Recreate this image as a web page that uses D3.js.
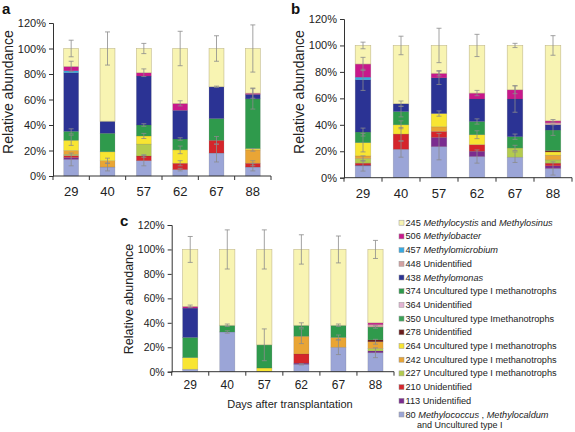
<!DOCTYPE html>
<html>
<head>
<meta charset="utf-8">
<script src="https://cdn.jsdelivr.net/npm/d3@7"></script>
<style>
  html, body { margin: 0; padding: 0; background: #fff; }
  svg { display: block; font-family: "Liberation Sans", Arial, sans-serif; }
</style>
</head>
<body>
<svg id="chart" width="575" height="432"></svg>
<script>
// ---------------- DATA ----------------
const days = ["29", "40", "57", "62", "67", "88"];
// stacking order, bottom -> top
const seriesCodes = [80, 113, 210, 227, 242, 264, 278, 350, 364, 374, 438, 448, 457, 506, 245];
const yTicks = [0, 20, 40, 60, 80, 100, 120];

// rows = days, columns = seriesCodes (relative abundance, %)
const valuesA = [
  [13, 1.5, 1.5, 1, 3, 8, 0, 0, 0, 7, 46, 0, 1.5, 3.5, 14],
  [7, 0, 0, 0, 5, 7, 0, 0, 0, 14.5, 9.5, 0, 0, 0, 57],
  [12, 0, 3.7, 9.3, 0, 6.4, 0, 0, 0, 8.6, 38.4, 0, 0, 2.6, 19],
  [5, 0, 5, 0, 0, 10.5, 0, 0, 0, 8.5, 22.5, 0, 0, 5.5, 43],
  [18, 0, 10, 0, 0, 0, 0, 0, 0, 17, 25, 0, 0, 0, 30],
  [7, 0, 3, 0, 10.5, 1, 0, 0, 0, 39, 3.5, 0, 0, 1, 35]
];
const valuesB = [
  [9, 0.5, 1.5, 3.5, 2, 10, 0, 0, 0, 8, 39.5, 0, 2, 10, 14],
  [21.5, 0, 11.5, 0, 0, 7, 0, 0, 0, 10, 6, 0, 0, 0, 44],
  [23.5, 7, 4.5, 0, 3.5, 10, 0, 0, 0, 0, 27, 0, 0, 3.5, 21],
  [16, 4, 5, 0, 0, 7.5, 0, 0, 0, 10, 17, 0, 0, 4.5, 36],
  [15.5, 0, 0, 7, 0, 0, 0, 0, 0, 8.5, 28.5, 0, 0, 7, 33.5],
  [7, 2, 2, 2.5, 3.5, 2.5, 1, 0, 0, 15.5, 4, 1.5, 0, 1.5, 57]
];
const valuesC = [
  [2, 0, 0, 0, 0, 9.5, 0, 0, 0, 16.5, 24, 0, 0, 1.5, 46.5],
  [32.5, 0, 0, 0, 0, 0, 0, 0, 0, 5.5, 0, 0, 0, 0, 62],
  [0, 0, 0, 0, 0, 3, 0, 0, 0, 19, 0, 0, 0, 0, 78],
  [6, 1, 7.5, 0, 14.5, 0, 0, 0, 0, 9, 0, 0, 0, 0, 62],
  [20, 0, 0, 0, 8, 0, 0, 0, 0, 10, 0, 0, 0, 0, 62],
  [15.5, 1.5, 0, 2, 5.5, 0, 1.5, 0, 0, 10.5, 0, 2, 0, 1.5, 60]
];
// error bars (± %), drawn at the top of each segment; same shape as values
const errA = [
  [5, 0, 0, 0, 0, 4, 0, 0, 0, 2, 0, 0, 0, 4, 6.5],
  [3, 0, 0, 0, 2, 0, 0, 0, 0, 0, 0, 0, 0, 0, 13],
  [4, 0, 1, 0, 0, 2, 0, 0, 0, 1, 0, 0, 0, 3, 4],
  [1, 0, 2, 0, 0, 3, 0, 0, 0, 1, 0, 0, 0, 2, 13.5],
  [7, 0, 3, 0, 0, 0, 0, 0, 0, 0, 0.5, 0, 0, 0, 10],
  [3, 0, 2, 0, 1, 0, 0, 0, 0, 8, 0, 0, 0, 4, 18.5]
];
const errB = [
  [4, 0, 0, 2, 0, 7, 0, 0, 0, 3, 8, 0, 0, 5, 2.5],
  [6, 0, 5, 0, 0, 3, 0, 0, 0, 4, 2, 0, 0, 0, 7],
  [10, 0, 0, 0, 0, 2, 0, 0, 0, 0, 5, 0, 0, 2, 13],
  [5, 0, 0, 0, 0, 3, 0, 0, 0, 2, 0, 0, 0, 2, 8.4],
  [4, 0, 0, 2, 0, 0, 0, 0, 0, 2, 10, 0, 0, 3, 1.6],
  [5, 0, 0, 0, 0, 0, 0, 0, 0, 4, 0, 0, 0, 1, 7.4]
];
const errC = [
  [0, 0, 0, 0, 0, 0, 0, 0, 0, 0, 0, 0, 0, 1, 10.6],
  [1, 0, 0, 0, 0, 0, 0, 0, 0, 1, 0, 0, 0, 0, 16],
  [0, 0, 0, 0, 0, 0, 0, 0, 0, 13, 0, 0, 0, 0, 16],
  [0.5, 0, 0, 0, 6, 0, 0, 0, 0, 2, 0, 0, 0, 0, 12],
  [6, 0, 0, 0, 2, 0, 0, 0, 0, 1, 0, 0, 0, 0, 11],
  [4, 0, 0, 0, 2, 0, 0, 0, 0, 1, 0, 0, 0, 0, 7.4]
];
// legend labels, top -> bottom; each is a list of [text, italic]
const legendCodes = [245, 506, 457, 448, 438, 374, 364, 350, 278, 264, 242, 227, 210, 113, 80];
const legendNames = [
  [["Methylocystis", true], [" and ", false], ["Methylosinus", true]],
  [["Methylobacter", true]],
  [["Methylomicrobium", true]],
  [["Unidentified", false]],
  [["Methylomonas", true]],
  [["Uncultured type I methanotrophs", false]],
  [["Unidentified", false]],
  [["Uncultured type Imethanotrophs", false]],
  [["Unidentified", false]],
  [["Uncultured type I methanotrophs", false]],
  [["Uncultured type I methanotrophs", false]],
  [["Uncultured type I methanotrophs", false]],
  [["Unidentified", false]],
  [["Unidentified", false]],
  [["Methylococcus", true], [" , ", false], ["Methylocaldum", true]]
];
const legendExtraLine = "and Uncultured type I";
const xTitle = "Days after transplantation";
const yTitle = "Relative abundance";

// ---------------- STYLE ----------------
const colorOf = {
  80: "#9ba5d7", 113: "#7b2c8f", 210: "#d5252b", 227: "#b3cb4e", 242: "#e9a535",
  264: "#f8e532", 278: "#6b1c1c", 350: "#3aa257", 364: "#e2b3d2", 374: "#2f9a4c",
  438: "#2b3394", 448: "#d3a1a1", 457: "#37a9e2", 506: "#c8188b", 245: "#f8f4b2"
};

const svg = d3.select("#chart");

const panels = [
  { label: "a", vals: valuesA, errs: errA, x0: 53, x1: 271, yBottom: 176, yTop: 23,
    labelX: 2, labelY: 14, titleX: 13, titleY: 92, tickFont: 11, xFont: 13, titleFont: 14, xLabelDy: 20 },
  { label: "b", vals: valuesB, errs: errB, x0: 344, x1: 572, yBottom: 177.7, yTop: 19,
    labelX: 291, labelY: 14, titleX: 304, titleY: 92, tickFont: 11, xFont: 13, titleFont: 14, xLabelDy: 20 },
  { label: "c", vals: valuesC, errs: errC, x0: 171.7, x1: 394, yBottom: 371.7, yTop: 225,
    labelX: 120, labelY: 226, titleX: 133, titleY: 299, tickFont: 10.5, xFont: 12, titleFont: 12.5, xLabelDy: 17 }
];

panels.forEach(p => {
  const g = svg.append("g");
  const x = d3.scaleBand().domain(days).range([p.x0, p.x1]).paddingInner(0.59).paddingOuter(0.295);
  const y = d3.scaleLinear().domain([0, 120]).range([p.yBottom, p.yTop]);

  // stacked bars
  const rows = p.vals.map((r, i) => {
    const o = { day: days[i] };
    seriesCodes.forEach((c, j) => o[c] = r[j]);
    return o;
  });
  const stack = d3.stack().keys(seriesCodes)(rows);
  stack.forEach((layer) => {
    const code = layer.key;
    g.append("g").selectAll("rect").data(layer.filter(d => d[1] - d[0] > 0)).join("rect")
      .attr("x", d => x(d.data.day))
      .attr("width", x.bandwidth())
      .attr("y", d => y(d[1]))
      .attr("height", d => y(d[0]) - y(d[1]))
      .attr("fill", colorOf[code])
      .attr("stroke", +code === 245 ? "#c2b98c" : "rgba(80,80,80,0.25)")
      .attr("stroke-width", 0.6);
  });

  // error bars
  const eg = g.append("g").attr("stroke", "#8c8c8c").attr("stroke-width", 0.8).attr("fill", "none");
  stack.forEach((layer, j) => {
    layer.forEach((d, i) => {
      const e = p.errs[i][j];
      if (!(e > 0) || !(d[1] - d[0] > 0)) return;
      const cx = x(d.data.day) + x.bandwidth() / 2;
      const top = y(d[1] + e), bot = y(d[1] - e);
      eg.append("line").attr("x1", cx).attr("x2", cx).attr("y1", top).attr("y2", bot);
      eg.append("line").attr("x1", cx - 2.5).attr("x2", cx + 2.5).attr("y1", top).attr("y2", top);
      eg.append("line").attr("x1", cx - 2.5).attr("x2", cx + 2.5).attr("y1", bot).attr("y2", bot);
    });
  });

  // y axis
  const ya = g.append("g").attr("transform", `translate(${p.x0},0)`)
    .call(d3.axisLeft(y).tickValues(yTicks).tickFormat(d => d + "%").tickSize(4).tickPadding(3));
  ya.selectAll("text").attr("font-size", p.tickFont).attr("fill", "#222").attr("font-family", "'Liberation Sans', Arial, sans-serif");
  ya.selectAll("line, path").attr("stroke", "#333");

  // x axis: line, boundary ticks, labels
  const xa = g.append("g");
  xa.append("line").attr("x1", p.x0).attr("x2", p.x1).attr("y1", p.yBottom).attr("y2", p.yBottom)
    .attr("stroke", "#333");
  d3.range(days.length + 1).forEach(i => {
    const tx = x.range()[0] + i * x.step();
    xa.append("line").attr("x1", tx).attr("x2", tx).attr("y1", p.yBottom).attr("y2", p.yBottom + 4)
      .attr("stroke", "#333");
  });
  xa.selectAll("text.xl").data(days).join("text").attr("class", "xl")
    .attr("x", d => x(d) + x.bandwidth() / 2)
    .attr("y", p.yBottom + p.xLabelDy)
    .attr("text-anchor", "middle")
    .attr("font-size", p.xFont)
    .attr("fill", "#222")
    .text(d => d);

  // y title
  g.append("text")
    .attr("transform", `translate(${p.titleX},${p.titleY}) rotate(-90)`)
    .attr("text-anchor", "middle")
    .attr("font-size", p.titleFont)
    .attr("fill", "#222")
    .text(yTitle);

  // panel label
  g.append("text").attr("x", p.labelX).attr("y", p.labelY)
    .attr("font-size", 15).attr("font-weight", "bold").attr("fill", "#111")
    .text(p.label);
});

// x title for panel c
svg.append("text").attr("x", 290).attr("y", 408).attr("text-anchor", "middle")
  .attr("font-size", 11).attr("fill", "#222").text(xTitle);

// legend
const lg = svg.append("g");
const ly = d3.scaleLinear().domain([0, legendCodes.length - 1]).range([222.7, 414.5]);
legendCodes.forEach((code, i) => {
  const cy = ly(i);
  lg.append("rect").attr("x", 399).attr("y", cy - 2.5).attr("width", 5).attr("height", 5)
    .attr("fill", colorOf[code]).attr("stroke", "#999").attr("stroke-width", 0.5);
  const t = lg.append("text").attr("x", 405.5).attr("y", cy + 3)
    .attr("font-size", 9.2).attr("fill", "#222");
  t.append("tspan").text(code + " ");
  legendNames[i].forEach(([s, it]) => {
    t.append("tspan").attr("font-style", it ? "italic" : "normal").text(s);
  });
});
lg.append("text").attr("x", 417).attr("y", ly(legendCodes.length - 1) + 13)
  .attr("font-size", 9).attr("fill", "#222").text(legendExtraLine);
</script>
</body>
</html>
